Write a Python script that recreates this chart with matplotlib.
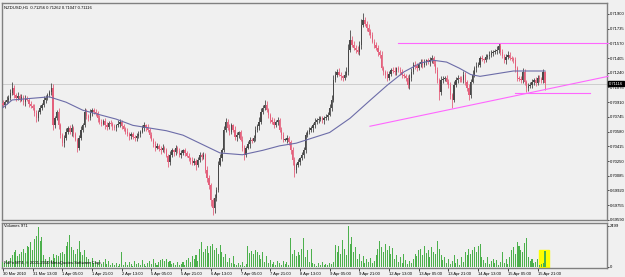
import matplotlib
matplotlib.use("Agg")
from matplotlib import pyplot as plt
import numpy as np

# NZDUSD H1 candles, prices in pips (1 pip = 0.0001)
first_open = 7090
closes = [
    7088, 7091, 7094, 7096, 7101, 7107, 7099, 7096, 7098, 7094,
    7097, 7091, 7095, 7094, 7089, 7087, 7085, 7079, 7073, 7080,
    7085, 7088, 7094, 7096, 7099, 7102, 7107, 7065, 7073, 7080,
    7065, 7054, 7045, 7051, 7058, 7062, 7057, 7062, 7055, 7049,
    7040, 7051, 7060, 7065, 7080, 7076, 7073, 7079, 7082, 7080,
    7079, 7073, 7069, 7067, 7070, 7065, 7063, 7068, 7067, 7064,
    7062, 7065, 7067, 7069, 7064, 7061, 7058, 7055, 7053, 7055,
    7052, 7051, 7053, 7055, 7058, 7062, 7065, 7063, 7060, 7054,
    7049, 7044, 7040, 7042, 7039, 7037, 7040, 7037, 7031, 7024,
    7032, 7037, 7035, 7040, 7036, 7032, 7034, 7037, 7034, 7031,
    7028, 7026, 7023, 7025, 7021, 7026, 7032, 7030, 7032, 7015,
    7006, 6998, 6981, 6972, 6984, 6993, 7021, 7028, 7037, 7060,
    7069, 7062, 7058, 7065, 7060, 7052, 7054, 7057, 7049, 7040,
    7032, 7040, 7044, 7049, 7048, 7051, 7060, 7064, 7069, 7080,
    7085, 7088, 7082, 7077, 7071, 7069, 7065, 7069, 7071, 7060,
    7054, 7049, 7049, 7051, 7046, 7037, 7026, 7015, 7021, 7024,
    7028, 7032, 7037, 7054, 7058, 7060, 7062, 7065, 7069, 7071,
    7072, 7073, 7071, 7073, 7074, 7077, 7085, 7094, 7116, 7122,
    7125, 7122, 7120, 7118, 7122, 7125, 7150, 7161, 7155, 7152,
    7150, 7147, 7155, 7178, 7183, 7179, 7174, 7170, 7166, 7159,
    7155, 7152, 7147, 7144, 7129, 7125, 7122, 7118, 7123, 7127,
    7126, 7125, 7129, 7127, 7125, 7122, 7120, 7118, 7110, 7118,
    7125, 7133, 7132, 7129, 7134, 7136, 7133, 7136, 7138, 7136,
    7138, 7141, 7134, 7127, 7116, 7102, 7116, 7117, 7118, 7114,
    7110, 7099, 7094, 7110, 7116, 7118, 7117, 7116, 7122, 7114,
    7107, 7099, 7114, 7122, 7129, 7132, 7133, 7141, 7139, 7138,
    7142, 7143, 7144, 7146, 7147, 7148, 7150, 7154, 7147, 7143,
    7138, 7142, 7144, 7141, 7139, 7138, 7129, 7118, 7117, 7116,
    7125, 7114, 7107, 7109, 7110, 7114, 7116, 7112, 7118, 7117,
    7116, 7125, 7112,
]
upper_wicks = [
    3, 2, 4, 3, 5, 7, 3, 2, 4, 2, 3, 2, 4, 3, 2, 3, 2, 4, 3, 2,
    3, 2, 4, 3, 2, 3, 5, 4, 3, 2, 4, 3, 2, 3, 4, 2, 3, 5, 2, 3,
    2, 3, 4, 3, 5, 3, 2, 4, 3, 2, 3, 2, 4, 3, 2, 3, 4, 2, 3, 2,
    3, 2, 4, 3, 2, 3, 2, 4, 3, 2, 3, 2, 3, 4, 2, 3, 4, 2, 3, 2,
    3, 2, 4, 3, 2, 3, 4, 2, 3, 2, 4, 3, 2, 3, 2, 4, 3, 2, 3, 2,
    3, 2, 4, 3, 2, 4, 3, 2, 3, 2, 4, 3, 2, 3, 4, 3, 4, 5, 3, 4,
    4, 3, 5, 3, 2, 4, 3, 2, 3, 4, 3, 2, 4, 3, 2, 3, 4, 3, 5, 4,
    3, 6, 4, 3, 2, 3, 4, 2, 3, 2, 3, 4, 2, 3, 2, 3, 4, 3, 2, 3,
    2, 3, 4, 3, 2, 3, 2, 3, 4, 2, 3, 2, 3, 2, 4, 3, 4, 5, 6, 4,
    3, 4, 3, 2, 4, 5, 6, 11, 4, 5, 3, 4, 5, 6, 8, 4, 3, 5, 3, 4,
    3, 4, 3, 2, 4, 3, 2, 4, 3, 2, 3, 4, 2, 3, 4, 3, 2, 3, 4, 5,
    4, 3, 4, 3, 2, 3, 4, 3, 2, 3, 4, 3, 2, 4, 3, 2, 4, 3, 2, 3,
    3, 4, 2, 5, 3, 4, 2, 3, 4, 3, 2, 4, 3, 5, 3, 4, 3, 2, 3, 2,
    3, 2, 4, 3, 2, 3, 4, 3, 3, 4, 2, 3, 4, 3, 2, 3, 4, 3, 2, 3,
    4, 3, 2, 3, 4, 3, 2, 3, 4, 3, 2, 3, 1,
]
lower_wicks = [
    2, 3, 2, 4, 3, 2, 3, 4, 2, 3, 2, 3, 4, 2, 3, 2, 3, 4, 4, 3,
    2, 3, 2, 4, 3, 2, 3, 5, 3, 2, 4, 3, 3, 4, 2, 3, 2, 4, 3, 2,
    5, 3, 2, 3, 2, 4, 3, 2, 3, 2, 3, 4, 2, 3, 2, 4, 3, 2, 3, 4,
    2, 3, 2, 4, 3, 2, 3, 2, 4, 3, 2, 3, 4, 2, 3, 2, 3, 4, 2, 3,
    2, 3, 4, 2, 3, 4, 2, 3, 2, 6, 3, 2, 4, 3, 2, 3, 4, 2, 3, 2,
    3, 4, 2, 3, 6, 3, 2, 4, 3, 4, 5, 4, 6, 8, 5, 4, 3, 2, 3, 2,
    3, 2, 4, 3, 2, 3, 4, 3, 2, 4, 6, 3, 2, 4, 3, 2, 3, 2, 4, 3,
    2, 3, 2, 4, 3, 2, 3, 2, 4, 3, 4, 3, 2, 4, 3, 4, 5, 8, 4, 3,
    3, 2, 4, 3, 2, 3, 2, 4, 3, 2, 3, 2, 3, 4, 2, 3, 2, 4, 3, 2,
    3, 2, 4, 3, 2, 3, 4, 3, 2, 3, 4, 2, 3, 4, 3, 2, 3, 4, 3, 2,
    3, 2, 4, 3, 2, 3, 4, 3, 2, 3, 2, 4, 3, 2, 3, 4, 2, 3, 3, 4,
    3, 2, 4, 3, 2, 3, 4, 2, 3, 2, 4, 3, 2, 3, 4, 8, 3, 4, 2, 3,
    3, 4, 9, 3, 2, 4, 3, 2, 3, 4, 3, 5, 3, 2, 3, 4, 2, 3, 2, 3,
    2, 3, 4, 2, 3, 2, 3, 4, 3, 2, 3, 4, 2, 3, 2, 3, 4, 3, 2, 3,
    3, 4, 5, 3, 2, 3, 4, 3, 2, 3, 4, 3, 7,
]
volumes = [
    300, 250, 420, 380, 520, 700, 900, 1000, 650, 800, 900, 1100, 850, 1300, 1200, 1500, 1050, 1700, 1900, 2420,
    1600, 1800, 700, 500, 350, 600, 420, 800, 550, 700, 650, 820, 900, 750, 1300, 1500, 1950, 1200, 1000, 800,
    1100, 1600, 900, 700, 1000, 600, 450, 300, 550, 200, 380, 250, 420, 150, 300, 500, 180, 350, 120, 250,
    90, 200, 60, 150, 880, 120, 260, 80, 300, 180, 60, 350, 140, 230, 90, 400, 180, 60, 250, 320,
    150, 480, 200, 90, 300, 420, 500, 350, 460, 300, 380, 150, 250, 100, 300, 120, 180, 260, 90, 420,
    550, 300, 650, 480, 700, 350, 1100, 1540, 900, 1100, 1250, 850, 1300, 1420, 1000, 1150, 800, 1350, 900, 600,
    800, 300, 520, 200, 650, 150, 80, 200, 120, 300, 60, 180, 1270, 850, 950, 800, 1000, 900, 700, 500,
    900, 300, 650, 200, 400, 150, 300, 100, 380, 220, 90, 350, 150, 260, 120, 1740, 800, 1000, 650, 900,
    700, 1100, 1740, 600, 1000, 300, 1100, 250, 150, 60, 200, 100, 280, 120, 180, 90, 220, 160, 300, 1330,
    900, 1300, 800, 1650, 1100, 700, 2499, 1400, 1800, 900, 1200, 500, 800, 350, 650, 200, 450, 300, 550, 250,
    380, 700, 1100, 1590, 1200, 900, 1400, 1000, 1300, 800, 1150, 500, 700, 300, 600, 250, 800, 400, 150, 350,
    200, 450, 800, 650, 1000, 1100, 700, 1300, 850, 1000, 600, 1200, 900, 800, 1590, 1100, 700, 400, 600, 250,
    500, 150, 350, 700, 200, 450, 120, 600, 300, 900, 700, 1100, 800, 1000, 1200, 900, 1300, 1390, 600, 400,
    250, 600, 150, 350, 500, 200, 400, 100, 300, 900, 250, 450, 150, 600, 1000, 1200, 800, 1540, 1300, 1050,
    900, 1450, 1740, 600, 350, 450, 200, 300, 500, 100, 150, 250, 971,
]

# moving average line (bar index, price)
ma_bars = [0, 5, 25, 34, 43, 52, 61, 70, 79, 88, 97, 106, 117, 129, 140, 149, 158,
           167, 176, 187, 198, 207, 216, 225, 232, 239, 246, 252, 257, 266, 275, 282, 292]
ma_values = [0.70850, 0.70935, 0.70970, 0.70910, 0.70820, 0.70770, 0.70720, 0.70650,
             0.70620, 0.70590, 0.70540, 0.70450, 0.70340, 0.70320, 0.70370, 0.70420,
             0.70450, 0.70510, 0.70570, 0.70730, 0.70935, 0.71100, 0.71250, 0.71350,
             0.71380, 0.71360, 0.71290, 0.71220, 0.71200, 0.71230, 0.71260, 0.71260, 0.71260]

# trend lines drawn on the chart (bar index, price)
top_line = ([213, 326], [0.71574, 0.71574])
rising_line = ([197.7, 326], [0.70640, 0.71200])
support_line = ([276, 316], [0.71010, 0.71010])
last_price = 0.71116

price_labels = ["0.71900", "0.71735", "0.71570", "0.71405", "0.71240", "0.71075", "0.70910",
                "0.70745", "0.70580", "0.70415", "0.70250", "0.70085", "0.69920", "0.69755", "0.69590"]
time_labels = ["30 Mar 2010", "31 Mar 13:00", "1 Apr 05:00", "1 Apr 21:00", "2 Apr 13:00",
               "5 Apr 05:00", "5 Apr 21:00", "6 Apr 13:00", "7 Apr 05:00", "7 Apr 21:00",
               "8 Apr 13:00", "9 Apr 05:00", "9 Apr 21:00", "12 Apr 13:00", "13 Apr 05:00",
               "13 Apr 21:00", "14 Apr 13:00", "15 Apr 05:00", "15 Apr 21:00"]

assert len(closes) == len(upper_wicks) == len(lower_wicks) == len(volumes)

PIP = 0.0001
close = np.array(closes) * PIP
open_ = np.array([first_open] + closes[:-1]) * PIP
high = np.maximum(open_, close) + np.array(upper_wicks) * PIP
low = np.minimum(open_, close) - np.array(lower_wicks) * PIP
bars = np.arange(len(closes))
up = close >= open_

plt.rcParams["font.family"] = ["Liberation Sans", "DejaVu Sans"]

BG = "#f0f0f0"
BULL = "#484848"
BEAR = "#e4607c"
FS = 3.0

fig = plt.figure(figsize=(6.25, 2.77), dpi=100, facecolor=BG)
ax = fig.add_axes([2 / 625, 1 - 220 / 277, 605 / 625, 217 / 277], facecolor=BG)
vax = fig.add_axes([2 / 625, 1 - 268 / 277, 605 / 625, 45 / 277], facecolor=BG, sharex=ax)

# candles
colors = np.where(up, BULL, BEAR)
ax.vlines(bars, low, high, colors=colors, linewidth=0.6, zorder=3)
body = np.maximum(np.abs(close - open_), 0.2 * PIP)
ax.bar(bars, body, bottom=np.minimum(open_, close), width=0.7, color=colors, linewidth=0, zorder=4)

ax.plot(ma_bars, ma_values, color="#6c6ca8", linewidth=0.8, zorder=5)
ax.axhline(last_price, color="#c8c8c8", linewidth=0.6, zorder=1)
for xs, ys in [top_line, rising_line, support_line]:
    ax.plot(xs, ys, color="#ff66ff", linewidth=0.8, zorder=6, clip_on=False)

ax.set_xlim(-0.5, 325.4)
ax.set_ylim(0.69588, 0.72023)
ax.set_yticks([float(p) for p in price_labels])
ax.set_yticklabels(price_labels)
ax.tick_params(axis="y", left=False, labelleft=False, right=True, labelright=True,
               length=1.5, width=0.5, labelsize=FS, pad=0.5)
ax.tick_params(axis="x", bottom=False, labelbottom=False)
ax.annotate("0.71116", xy=(1.003, last_price), xycoords=("axes fraction", "data"),
            fontsize=FS, color="white", va="center", ha="left", zorder=10,
            bbox=dict(boxstyle="square,pad=0.15", fc="black", ec="black"), annotation_clip=False)
ax.text(0.004, 0.99, "NZDUSD,H1  0.71256 0.71262 0.71047 0.71116", transform=ax.transAxes,
        fontsize=FS, va="top", ha="left")

# volumes
vax.axvspan(288.8, 294.2, ymax=0.4, color="#ffff00", zorder=1)
vax.bar(bars, volumes, width=0.55, color="#4cb04c", linewidth=0, zorder=3)
vax.set_ylim(-80, 2683)
vax.set_yticks([0, 2499])
vax.set_yticklabels(["0", "2499"])
vax.tick_params(axis="y", left=False, labelleft=False, right=True, labelright=True,
                length=1.5, width=0.5, labelsize=FS, pad=0.5)
vax.set_xticks(bars[::16][:len(time_labels)])
vax.set_xticklabels(time_labels, ha="left")
vax.tick_params(axis="x", length=2, width=0.5, labelsize=FS, pad=1)
vax.text(0.004, 0.97, "Volumes 971", transform=vax.transAxes, fontsize=FS, va="top", ha="left")
vax.text(0.004, 0.06, "RoFo MT4, \u00a9 2001-2010 MetaQuotes Software Corp.", transform=vax.transAxes,
         fontsize=FS, va="bottom", ha="left")

for a in (ax, vax):
    for s in a.spines.values():
        s.set_color("#808080")
        s.set_linewidth(1)

fig.savefig("out.png", dpi=100, facecolor=BG)
